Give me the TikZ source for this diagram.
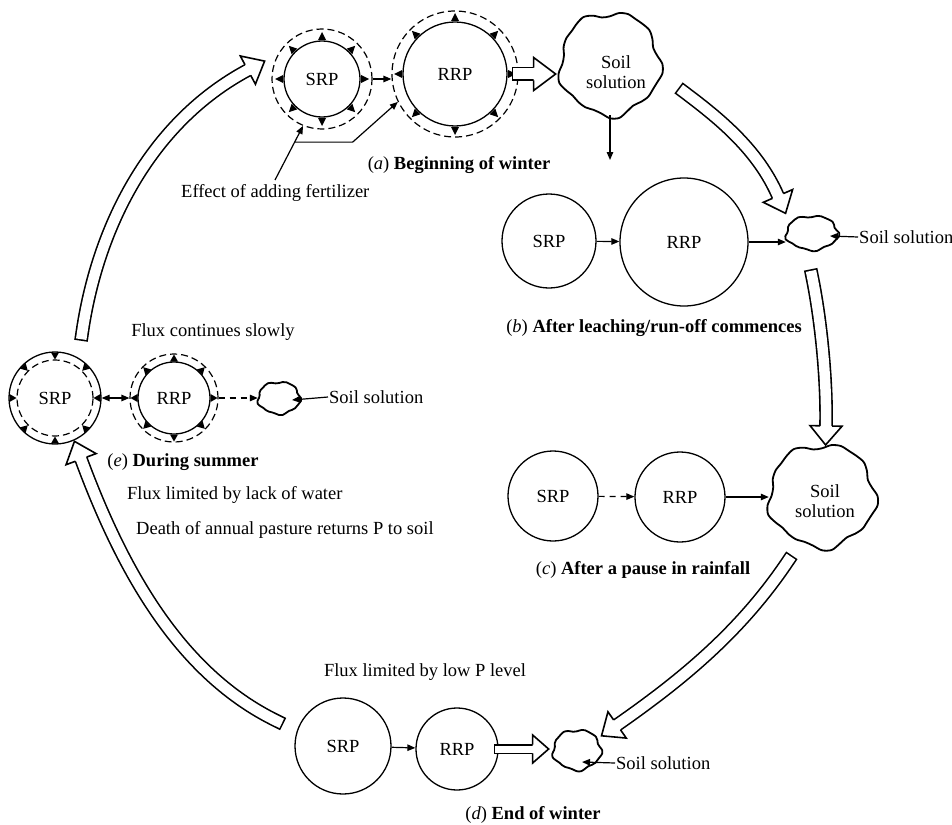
\documentclass[tikz,border=0pt]{standalone}
\usepackage{fontspec}
\setmainfont{Liberation Serif}
\usetikzlibrary{arrows.meta,shapes.geometric,decorations.markings,calc}
\tikzset{
  txt/.style={inner sep=1pt},
  pool/.style={circle, draw, line width=1.3pt, inner sep=0pt},
  dring/.style={circle, draw, dash pattern=on 7pt off 4pt, line width=1.2pt, inner sep=0pt},
  cloudn/.style={ellipse, inner sep=0pt},
  flow/.style={-{Triangle[length=8pt,width=6.5pt]}, line width=1.2pt},
  flowboth/.style={{Triangle[length=8pt,width=6.5pt]}-{Triangle[length=8pt,width=6.5pt]}, line width=1.2pt},
  dflow/.style={flow, dash pattern=on 6pt off 5pt},
  blockarrow/.style n args={4}{double=white, double distance=#1, line width=1.6pt, line cap=rect,
    postaction={decorate, decoration={markings, mark=at position 0.9995 with {
      \draw[line width=1.6pt, fill=white, line join=miter, line cap=butt]
        (0pt,#2) -- (0pt,#3) -- (#4,0pt) -- (0pt,-#3) -- (0pt,-#2);}}}},
  bigarrow/.style={blockarrow={10.5pt}{6pt}{16pt}{19pt}}
}
\newcommand\ringtris[3]{%
  \foreach \a in {0,45,...,315}{\fill[shift={(#1)}, rotate=\a] (#2pt,4pt) -- (#3pt,0pt) -- (#2pt,-4pt) -- cycle;}}
\newcommand\blob[3]{%
  \draw[line width=1.8pt, line join=round, shift={(#1)}] plot[smooth cycle, samples at={0,10,...,350}, variable=\t]
    ({#2*(1+0.05*sin(5*\t+20)+0.035*sin(9*\t+60))*cos(\t)}, {#3*(1+0.05*sin(5*\t+20)+0.035*sin(9*\t+60))*sin(\t)});}
\begin{document}
\begin{tikzpicture}[x=1pt, y=-1pt, every node/.style={font=\fontsize{18.5}{20}\selectfont}]
\useasboundingbox (0,0) rectangle (952,824);

% ---------- (a) Beginning of winter
\node[pool, minimum size=76pt] (sa) at (322,79) {SRP};
\node[dring, minimum size=100pt] (sa-d) at (322,79) {};
\node[pool, minimum size=104pt] (ra) at (455,74) {RRP};
\node[dring, minimum size=126pt] (ra-d) at (455,74) {};
\ringtris{sa}{39}{47}
\ringtris{ra}{53}{61}
\node[cloudn, minimum width=100pt, minimum height=102pt] (ca) at (610,64) {};
\blob{ca}{50}{51}
\node[txt, align=center] (ca-t) at (616,72) {Soil\\solution};
\draw[flow] (sa-d.east) -- (sa-d.east -| ra-d.west);
\draw[blockarrow={11pt}{6.3pt}{16.5pt}{22pt}] (ra-d.east) -- ++(15,0);
\coordinate (ca-down) at (610,160);
\draw[flow] (ca.south) -- (ca-down);
\node[txt, anchor=west] (eff) at (180,193) {Effect of adding fertilizer};
\coordinate (f0) at (275,180);
\draw[flow] (f0) -- (sa-d.248);
\coordinate (fb) at ($(f0)!0.7!(sa-d.248)$);
\draw[flow] (fb) -- ++(58,0) -- (ra-d.206);
\node[txt] (cap-a) at (459,165) {(\textit{a}) \textbf{Beginning of winter}};

% ---------- (b) After leaching
\node[pool, minimum size=94pt] (sb) at (549,241) {SRP};
\node[pool, minimum size=128pt] (rb) at (684,242) {RRP};
\node[cloudn, minimum width=52pt, minimum height=34pt] (cb) at (812,233) {};
\blob{cb}{26}{17}
\draw[flow] (sb) -- (rb);
\draw[flow] (rb.east) -- (rb.east -| cb.west);
\node[txt, anchor=west] (lb) at (858,237) {Soil solution};
\coordinate (cb-in) at ($(cb)+(18,3)$);
\draw[flow] (lb.west) -- (cb-in);
\node[txt] (cap-b) at (654,328) {(\textit{b}) \textbf{After leaching/run-off commences}};

% ---------- (c) After a pause in rainfall
\node[pool, minimum size=90pt] (sc) at (553,496) {SRP};
\node[pool, minimum size=90pt] (rc) at (680,497) {RRP};
\node[cloudn, minimum width=106pt, minimum height=102pt] (cc) at (822,496) {};
\blob{cc}{53}{51}
\node[txt, align=center] (cc-t) at (825,501) {Soil\\solution};
\draw[dflow] (sc) -- (rc);
\draw[flow] (rc.east) -- (rc.east -| cc.west);
\node[txt] (cap-c) at (643,570) {(\textit{c}) \textbf{After a pause in rainfall}};

% ---------- (d) End of winter
\node[txt] (flux-d) at (425,672) {Flux limited by low P level};
\node[pool, minimum size=96pt] (sd) at (343,746) {SRP};
\node[pool, minimum size=82pt] (rd) at (457,749) {RRP};
\node[cloudn, minimum width=48pt, minimum height=40pt] (cd) at (577,750) {};
\blob{cd}{24}{20}
\draw[flow] (sd) -- (rd);
\draw[blockarrow={7pt}{4.3pt}{14pt}{16pt}] (rd.east) -- ++(34,0);
\node[txt, anchor=west] (ld) at (615,763) {Soil solution};
\coordinate (cd-in) at ($(cd)+(5,12)$);
\draw[flow] (ld.west) -- (cd-in);
\node[txt] (cap-d) at (533,815) {(\textit{d}) \textbf{End of winter}};

% ---------- (e) During summer
\node[txt] (flux-e) at (213,332) {Flux continues slowly};
\node[pool, minimum size=92pt] (se) at (55,398) {SRP};
\node[dring, minimum size=76pt] (se-d) at (55,398) {};
\node[pool, minimum size=72pt] (re) at (174,398) {RRP};
\node[dring, minimum size=88pt] (re-d) at (174,398) {};
\ringtris{se}{45.5}{38.5}
\ringtris{re}{36.5}{43.5}
\node[cloudn, minimum width=42pt, minimum height=32pt] (ce) at (279,398) {};
\blob{ce}{21}{16}
\draw[flowboth] (se) -- (re-d);
\draw[dflow] (re-d) -- (ce);
\node[txt, anchor=west] (le) at (328,397) {Soil solution};
\coordinate (ce-in) at ($(ce)+(13,2)$);
\draw[flow] (le.west) -- (ce-in);
\node[txt] (cap-e) at (183,462) {(\textit{e}) \textbf{During summer}};
\node[txt, anchor=west] (e1) at (126,495) {Flux limited by lack of water};
\node[txt, anchor=west] (e2) at (135,530) {Death of annual pasture returns P to soil};

% ---------- big cycle arrows
\coordinate (tE) at (82,334);   \coordinate (hA) at (248,70);
\coordinate (tA) at (684,92);   \coordinate (hB) at (778,196);
\coordinate (tB) at (812,276);  \coordinate (hC) at (826,426);
\coordinate (tC) at (788,561);  \coordinate (hD) at (617,725);
\coordinate (tD) at (277,721);  \coordinate (hE) at (81,459);
\draw[bigarrow] (tE) .. controls (97,229) and (149,123) .. (hA);
\draw[bigarrow] (tA) .. controls (720,119) and (758,150) .. (hB);
\draw[bigarrow] (tB) .. controls (821,320) and (827,380) .. (hC);
\draw[bigarrow] (tC) .. controls (741,631) and (683,679) .. (hD);
\draw[bigarrow] (tD) .. controls (178,673) and (121,567) .. (hE);
\end{tikzpicture}
\end{document}
